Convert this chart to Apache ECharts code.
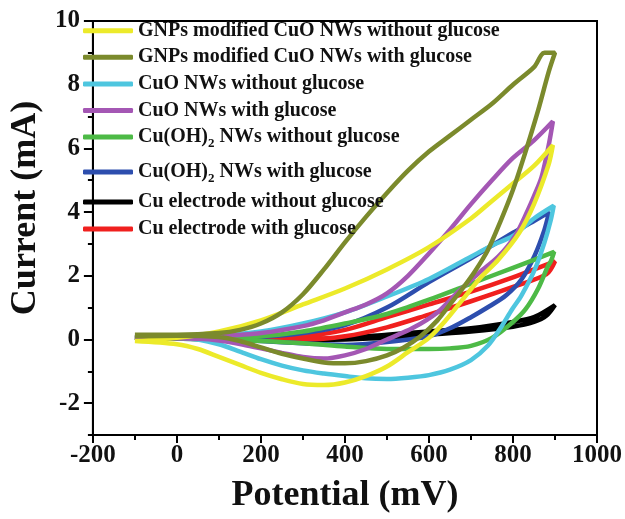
<!DOCTYPE html>
<html>
<head>
<meta charset="utf-8">
<script src="https://cdn.jsdelivr.net/npm/echarts@6/dist/echarts.min.js"></script>
<style>
html,body{margin:0;padding:0;background:#fff;}
#chart{width:625px;height:519px;}
</style>
</head>
<body>
<div id="chart"></div>
<script>
// ---- Data (Potential mV, Current mA), closed CV loops ----
const seriesNames = [
  'GNPs modified CuO NWs without glucose',
  'GNPs modified CuO NWs with glucose',
  'CuO NWs without glucose',
  'CuO NWs with glucose',
  'Cu(OH)2 NWs without glucose',
  'Cu(OH)2 NWs with glucose',
  'Cu electrode without glucose',
  'Cu electrode with glucose'
];
const seriesColors = ['#ecea2a','#7b8a2c','#4ec6df','#a457b4','#4dba46','#2d4eae','#000000','#f0201e'];

const gnpCuoWithout = [[-100,-0.05],[0,0.05],[100,0.25],[200,0.6],[300,1.1],[400,1.6],[500,2.2],[600,2.9],[700,3.8],[750,4.35],[800,4.9],[850,5.45],[895,6.1],
  [885,5.5],[850,4.25],[815,3.35],[765,2.5],[720,1.9],[680,1.25],[640,0.6],[600,0.05],[550,-0.4],[500,-0.85],[450,-1.15],[400,-1.35],[350,-1.43],[300,-1.4],[250,-1.25],[200,-1.05],[150,-0.8],[100,-0.55],[50,-0.3],[0,-0.15],[-100,-0.05]];
const gnpCuoWith = [[-100,0.15],[0,0.15],[100,0.2],[150,0.3],[200,0.5],[250,0.85],[300,1.42],[350,2.2],[400,3.05],[450,3.85],[500,4.6],[550,5.3],[600,5.9],[650,6.4],[700,6.9],[750,7.4],[800,8.0],[850,8.55],[875,9.0],[900,9.0],
  [885,8.4],[860,7.2],[830,5.9],[800,4.7],[770,3.7],[740,2.8],[710,2.15],[680,1.6],[650,1.1],[620,0.6],[580,0.1],[540,-0.25],[500,-0.5],[450,-0.68],[400,-0.75],[350,-0.72],[300,-0.6],[250,-0.45],[200,-0.25],[150,-0.05],[100,0.08],[0,0.12],[-100,0.1]];
const cuoWithout = [[-100,0.05],[0,0.05],[100,0.12],[200,0.25],[300,0.5],[400,0.85],[500,1.35],[600,1.9],[700,2.6],[750,2.95],[800,3.25],[850,3.8],[897,4.2],
  [890,3.75],[875,3.05],[852,2.2],[820,1.38],[798,0.95],[770,0.35],[740,-0.2],[700,-0.65],[650,-0.95],[600,-1.12],[550,-1.2],[500,-1.24],[450,-1.22],[400,-1.15],[350,-1.07],[300,-0.97],[250,-0.82],[200,-0.62],[150,-0.38],[100,-0.15],[50,0.0],[0,0.05],[-100,0.05]];
const cuoWith = [[-100,0.05],[0,0.05],[100,0.1],[200,0.2],[300,0.42],[350,0.6],[400,0.85],[450,1.1],[500,1.45],[550,2.0],[600,2.7],[650,3.45],[700,4.25],[750,5.0],[800,5.7],[850,6.25],[895,6.85],
  [885,6.1],[868,5.1],[850,4.5],[835,4.05],[805,3.25],[765,2.6],[720,2.1],[670,1.5],[620,0.85],[560,0.35],[500,0.0],[450,-0.3],[400,-0.5],[350,-0.6],[300,-0.55],[250,-0.42],[200,-0.28],[150,-0.14],[100,-0.03],[50,0.02],[-100,0.05]];
const cuohWithout = [[-100,0.05],[100,0.05],[200,0.1],[300,0.25],[400,0.5],[500,0.8],[600,1.25],[700,1.75],[800,2.25],[850,2.5],[898,2.75],
  [890,2.45],[883,2.3],[860,1.6],[830,0.95],[800,0.55],[750,0.05],[700,-0.2],[650,-0.28],[600,-0.3],[500,-0.3],[400,-0.22],[300,-0.12],[200,-0.05],[100,0.0],[-100,0.05]];
const cuohWith = [[-100,0.05],[100,0.05],[200,0.08],[300,0.2],[400,0.45],[500,1.0],[600,1.8],[700,2.55],[750,2.95],[800,3.35],[850,3.72],[886,4.0],
  [875,3.45],[852,2.65],[821,1.9],[783,1.38],[745,1.05],[700,0.7],[650,0.35],[600,0.1],[500,-0.08],[400,-0.17],[300,-0.12],[200,-0.05],[100,0.0],[-100,0.05]];
const cuElecWithout = [[-100,0.05],[200,0.0],[300,0.0],[400,0.05],[500,0.15],[600,0.25],[700,0.35],[800,0.55],[850,0.7],[900,1.08],
  [880,0.75],[850,0.55],[800,0.4],[700,0.25],[600,0.15],[500,0.05],[400,0.0],[300,-0.02],[-100,0.05]];
const cuElecWith = [[-100,0.05],[200,0.05],[300,0.1],[400,0.3],[500,0.7],[600,1.1],[700,1.5],[800,1.95],[900,2.45],
  [880,2.05],[800,1.65],[700,1.2],[600,0.78],[500,0.38],[400,0.1],[300,0.0],[200,0.0],[-100,0.05]];

const xTicks = [-200,0,200,400,600,800,1000];
const yMajorTicks = [-2,0,2,4,6,8,10];
const yMinorTicks = [-3,-1,1,3,5,7,9];

const loops = [gnpCuoWithout,gnpCuoWith,cuoWithout,cuoWith,cuohWithout,cuohWith,cuElecWithout,cuElecWith];
// drawing order (last on top)
const drawOrder = [6,7,5,4,2,3,0,1];

const FONT = 'Liberation Serif';
const chart = echarts.init(document.getElementById('chart'), null, {renderer:'canvas'});

function legendFmt(name){
  return name.replace('Cu(OH)2', 'Cu(OH){sub|2}');
}
const legendText = {
  fontFamily: FONT, fontWeight: 'bold', fontSize: 20, color: '#111', lineHeight: 20,
  rich: { sub: { fontFamily: FONT, fontWeight: 'bold', fontSize: 13, color: '#111', lineHeight: 20, verticalAlign: 'top', padding: [10,0,0,0] } }
};
const legendBase = {
  orient: 'vertical', left: 83, padding: 0, itemWidth: 50, itemHeight: 5,
  icon: 'roundRect', textStyle: legendText, formatter: legendFmt, selectedMode: false
};

const series = drawOrder.map(i => ({
  name: seriesNames[i],
  type: 'line',
  data: loops[i],
  smooth: 0.3,
  showSymbol: false,
  symbol: 'none',
  lineStyle: { width: 4.5, color: seriesColors[i] },
  itemStyle: { color: seriesColors[i] },
  xAxisIndex: 0, yAxisIndex: 0,
  z: 2
}));

const axisLabelStyle = { fontFamily: FONT, fontWeight: 'bold', fontSize: 25, color: '#111' };

chart.setOption({
  animation: false,
  backgroundColor: '#fff',
  grid: { left: 79, right: 28, top: 21, bottom: 82, show: true, borderColor: '#000', borderWidth: 2, backgroundColor: 'transparent' },
  legend: [
    Object.assign({}, legendBase, { top: 20.7, itemGap: 6.6, data: seriesNames.slice(0,5) }),
    Object.assign({}, legendBase, { top: 162, itemGap: 7, data: seriesNames.slice(5) })
  ],
  xAxis: [{
    type: 'value', min: -200, max: 1000, interval: 200,
    name: 'Potential (mV)', nameLocation: 'middle', nameGap: 43,
    nameTextStyle: { fontFamily: FONT, fontWeight: 'bold', fontSize: 36, color: '#111' },
    axisLine: { show: true, onZero: false, lineStyle: { color: '#000', width: 2 } },
    axisTick: { show: true, inside: false, length: 8, lineStyle: { color: '#000', width: 2 } },
    minorTick: { show: true, splitNumber: 2, length: 5, lineStyle: { color: '#000', width: 2 } },
    splitLine: { show: false },
    axisLabel: Object.assign({ margin: 8, formatter: v => String(v) }, axisLabelStyle)
  }],
  yAxis: [{
    type: 'value', min: -3, max: 10,
    name: 'Current (mA)', nameLocation: 'middle', nameGap: 33,
    nameTextStyle: { fontFamily: FONT, fontWeight: 'bold', fontSize: 36, color: '#111', padding: [0,0,0,40] },
    axisLine: { show: true, onZero: false, lineStyle: { color: '#000', width: 2 } },
    axisTick: { show: true, inside: false, length: 9, customValues: yMajorTicks, lineStyle: { color: '#000', width: 2 } },
    splitLine: { show: false },
    axisLabel: Object.assign({ margin: 13, customValues: yMajorTicks, formatter: v => String(v) }, axisLabelStyle)
  },{
    type: 'value', min: -3, max: 10, position: 'left', offset: 0,
    axisLine: { show: false, onZero: false },
    axisTick: { show: true, inside: false, length: 5, customValues: yMinorTicks, lineStyle: { color: '#000', width: 2 } },
    splitLine: { show: false },
    axisLabel: { show: false }
  }],
  series: series
});
</script>
</body>
</html>
